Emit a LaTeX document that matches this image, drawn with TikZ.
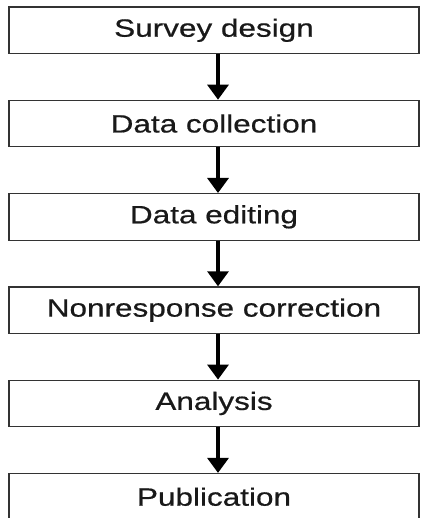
\documentclass[tikz,border=0pt]{standalone}
\usepackage{fontspec}
\newfontfamily\stagefont{Liberation Sans}[FakeStretch=1.26,FakeBold=0.6]
\usetikzlibrary{positioning,arrows.meta}
\begin{document}
\begin{tikzpicture}[x=1pt,y=1pt,
		stagebox/.style={draw=black!80, line width=1.2pt, minimum width=410pt, minimum height=46.5pt, inner sep=0pt, font=\stagefont\fontsize{25}{30}\selectfont, text=black!90},
		flow/.style={-{Triangle[width=21pt,length=15pt]}, line width=3.2pt},
		node distance=45.6pt]
		\useasboundingbox (0,0) rectangle (423,-518);
		
		\node[stagebox] (design) at (214,-30.25) {Survey design};
		\node[stagebox, below=of design] (collect) {Data collection};
		\node[stagebox, below=of collect] (edit) {Data editing};
		\node[stagebox, below=of edit] (nonresp) {Nonresponse correction};
		\node[stagebox, below=of nonresp] (analysis) {Analysis};
		\node[stagebox, below=of analysis] (publ) {Publication};
		
		\foreach \a/\b in {design/collect, collect/edit, edit/nonresp, nonresp/analysis, analysis/publ}
			\draw[flow] ([xshift=4pt]\a.south) -- ([xshift=4pt]\b.north);
	\end{tikzpicture}
\end{document}
